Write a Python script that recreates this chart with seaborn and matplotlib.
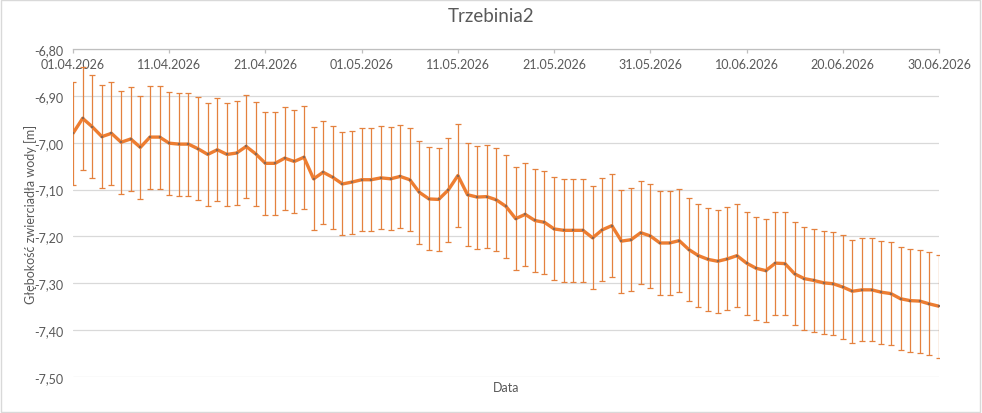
import matplotlib
matplotlib.use("Agg")
import matplotlib.pyplot as plt
import matplotlib.dates as mdates
from matplotlib.ticker import FuncFormatter
import seaborn as sns
import pandas as pd

# dane (Trzebinia2, 01.04 - 30.06.2026)
daty = pd.date_range("2026-04-01", "2026-06-30", freq="D")
glebokosc = [
    -6.980, -6.948, -6.966, -6.987, -6.980, -6.999, -6.992, -7.010, -6.988, -6.988,
    -7.001, -7.003, -7.003, -7.013, -7.025, -7.015, -7.025, -7.022, -7.008, -7.024,
    -7.044, -7.044, -7.033, -7.040, -7.031, -7.077, -7.063, -7.074, -7.088, -7.084,
    -7.079, -7.079, -7.075, -7.077, -7.072, -7.079, -7.106, -7.120, -7.121, -7.101,
    -7.070, -7.111, -7.116, -7.115, -7.122, -7.136, -7.162, -7.153, -7.166, -7.170,
    -7.184, -7.187, -7.187, -7.187, -7.203, -7.186, -7.177, -7.210, -7.207, -7.192,
    -7.199, -7.214, -7.214, -7.209, -7.228, -7.241, -7.249, -7.253, -7.248, -7.241,
    -7.257, -7.268, -7.273, -7.257, -7.258, -7.280, -7.290, -7.294, -7.299, -7.301,
    -7.308, -7.317, -7.314, -7.314, -7.319, -7.322, -7.333, -7.337, -7.338, -7.344,
    -7.349,
]
blad = 0.11  # słupki błędów +/-
y_ticks = [-6.80, -6.90, -7.00, -7.10, -7.20, -7.30, -7.40, -7.50]

df = pd.DataFrame({"Data": daty, "glebokosc": glebokosc})

sns.set_style("white")
plt.rcParams["font.family"] = ["Lato", "DejaVu Sans"]

fig = plt.figure(figsize=(9.82, 4.14), dpi=100)
ax = fig.add_axes([73 / 982, 1 - 378 / 414, (939 - 73) / 982, (378 - 50) / 414])

orange = "#ED7D31"
ax.errorbar(df["Data"], df["glebokosc"], yerr=blad, fmt="none",
            ecolor="#E4813E", elinewidth=0.9, capsize=2.5, capthick=0.9, zorder=2)
sns.lineplot(data=df, x="Data", y="glebokosc", ax=ax, color=orange, linewidth=2.4,
             marker="s", markersize=1.5, markerfacecolor="#8c6650",
             markeredgecolor="#8c6650", markeredgewidth=0.2, zorder=3)

ax.set_ylim(-7.50, -6.80)
ax.set_yticks(y_ticks)
ax.yaxis.set_major_formatter(FuncFormatter(lambda v, p: f"{v:.2f}".replace(".", ",")))
ax.set_xlim(daty[0], daty[-1])
ax.set_xticks(daty[::10])
ax.xaxis.set_major_formatter(mdates.DateFormatter("%d.%m.%Y"))

ax.grid(axis="y", color="#D9D9D9", linewidth=0.9)
ax.grid(axis="x", visible=False)
for s in ["left", "right", "bottom"]:
    ax.spines[s].set_visible(False)
ax.spines["top"].set_color("#BFBFBF")
ax.spines["top"].set_linewidth(0.9)

ax.xaxis.set_ticks_position("top")
ax.tick_params(axis="x", direction="in", length=3, width=0.9, color="#BFBFBF",
               pad=-15, labelsize=9, labelcolor="#595959")
ax.tick_params(axis="y", length=0, pad=7, labelsize=9, labelcolor="#595959")

ax.set_xlabel("Data", fontsize=9, color="#595959", labelpad=3)
ax.xaxis.set_label_position("bottom")
ax.set_ylabel("Głębokość zwierciadła wody [m]", fontsize=9, color="#595959", labelpad=-2)

fig.text(0.5, 1 - 16 / 414, "Trzebinia2", ha="center", va="center",
         fontsize=13.5, color="#595959")

# ramka obszaru wykresu
fig.patches.append(plt.Rectangle((0.001, 0.002), 0.997, 0.996, transform=fig.transFigure,
                                 fill=False, edgecolor="#D9D9D9", linewidth=1))

fig.savefig("out.png", dpi=100)
plt.close(fig)
